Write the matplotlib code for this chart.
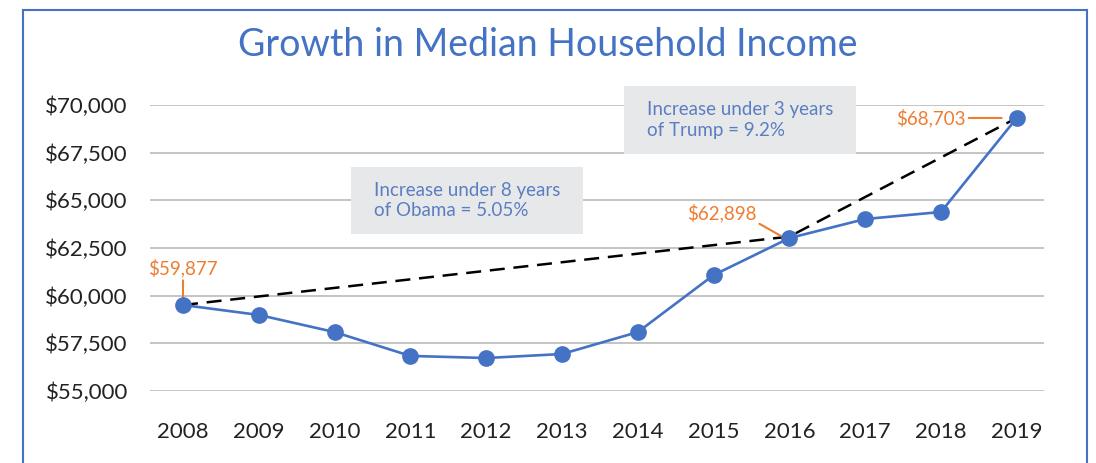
import matplotlib
matplotlib.use("Agg")
import matplotlib.pyplot as plt
from matplotlib.patches import Rectangle

plt.rcParams['font.family'] = ['Lato', 'DejaVu Sans']

years = ['2008', '2009', '2010', '2011', '2012', '2013',
         '2014', '2015', '2016', '2017', '2018', '2019']
income = [59510, 58990, 58090, 56840, 56730, 56940,
          58090, 61080, 63020, 64020, 64390, 69320]
# dashed trend: 2008 -> 2016 -> 2019
trend_idx = [0, 8, 11]
trend_val = [59510, 63100, 69320]
yticks = [55000, 57500, 60000, 62500, 65000, 67500, 70000]

blue = '#4472C4'
orange = '#ED7D31'

fig = plt.figure(figsize=(10.96, 4.63), dpi=100)
ax = fig.add_axes([0.1369, 0.1555, 0.8157, 0.6177])

x = list(range(len(years)))
ax.plot(trend_idx, trend_val, color='black', lw=1.8, dashes=(6, 3.5), zorder=3)
ax.plot(x, income, color=blue, lw=1.9, marker='o', markersize=11, zorder=4)

ax.set_xlim(-0.435, 11.36)
ax.set_ylim(55000, 70000)
ax.set_yticks(yticks)
ax.set_yticklabels(['${:,}'.format(v) for v in yticks])
ax.set_xticks(x)
ax.set_xticklabels(years)
ax.grid(axis='y', color='#BFBFBF', lw=1.3)
ax.set_axisbelow(True)
for s in ax.spines.values():
    s.set_visible(False)
ax.tick_params(length=0, labelsize=16, colors='#222222')
ax.tick_params(axis='y', pad=16)
ax.tick_params(axis='x', pad=22)

fig.text(0.5, 0.902, 'Growth in Median Household Income', color=blue,
         fontsize=27, ha='center', va='center')

# value labels with leader lines
lead = dict(arrowstyle='-', color=orange, lw=1.5, shrinkA=0, shrinkB=0)
ax.annotate('$59,877', xy=(0, income[0] + 250), xytext=(0, 60950),
            color=orange, fontsize=13.5, ha='center', va='bottom', arrowprops=lead)
ax.annotate('$62,898', xy=(7.89, 63130), xytext=(7.11, 64340),
            color=orange, fontsize=13.5, ha='center', va='center',
            arrowprops=dict(lead, relpos=(1, 0)))
ax.annotate('$68,703', xy=(10.8, income[11]), xytext=(10.33, income[11]),
            color=orange, fontsize=13.5, ha='right', va='center', arrowprops=lead)

# note boxes (figure pixel coords)
def note(x0, y0, x1, y1, txt):
    fig.patches.append(Rectangle((x0 / 1096, 1 - y1 / 463), (x1 - x0) / 1096, (y1 - y0) / 463,
                                 transform=fig.transFigure, facecolor='#E7E8EA',
                                 edgecolor='none', zorder=5))
    fig.text((x0 + 23) / 1096, 1 - (y0 + y1) / 2 / 463, txt, color='#5A7EC2',
             fontsize=13.5, ha='left', va='center', linespacing=1.25, zorder=6)

note(351, 167, 583, 234, 'Increase under 8 years\nof Obama = 5.05%')
note(624, 86, 856, 154, 'Increase under 3 years\nof Trump = 9.2%')

# outer border
fig.patches.append(Rectangle((23 / 1096, -0.05), (1087 - 23) / 1096, 1.05 - 10 / 463,
                             transform=fig.transFigure, facecolor='none',
                             edgecolor=blue, lw=1.5))

fig.savefig('out.png', dpi=100)
